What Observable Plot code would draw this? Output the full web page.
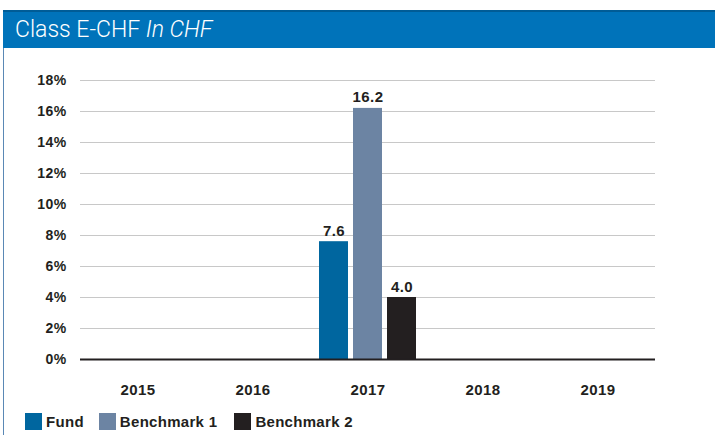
<!DOCTYPE html>
<html>
<head>
<meta charset="utf-8">
<script src="https://cdn.jsdelivr.net/npm/d3@7"></script>
<script src="https://cdn.jsdelivr.net/npm/@observablehq/plot@0.6"></script>
<style>
  body { margin: 0; background: #fff; font-family: "Liberation Sans", Arial, sans-serif; }
  #wrap { position: relative; width: 715px; height: 435px; overflow: hidden; }
  #header { position: absolute; left: 3px; top: 10px; width: 712px; height: 38px; background: #0073ba; border-top: 2px solid #005c96; color: #fff; font-size: 23px; font-weight: 300; font-family: Roboto, "Liberation Sans", sans-serif; line-height: 35px; padding-left: 12px; box-sizing: border-box; }
  #leftline { position: absolute; left: 3px; top: 48px; width: 1px; height: 387px; background: #5a88b5; }
  #chart { position: absolute; left: 0; top: 48px; }
  #chart text { letter-spacing: 0.4px; }
  #legend { position: absolute; left: 25px; top: 413px; display: flex; align-items: center; font-weight: bold; font-size: 15px; color: #231f20; letter-spacing: 0.3px; }
  .item { display: flex; align-items: center; }
  .sw { width: 17px; height: 17px; margin-right: 4px; }
</style>
</head>
<body>
<div id="wrap">
  <div id="header">Class E-CHF <i>In CHF</i></div>
  <div id="leftline"></div>
  <div id="chart"></div>
  <div id="legend"></div>
</div>
<script>
const years = ["2015", "2016", "2017", "2018", "2019"];
const seriesNames = ["Fund", "Benchmark 1", "Benchmark 2"];
const colors = ["#00669f", "#6c84a3", "#231f20"];
const fundValues = [null, null, 7.6, null, null];
const bench1Values = [null, null, 16.2, null, null];
const bench2Values = [null, null, 4.0, null, null];
const yTicks = [0, 2, 4, 6, 8, 10, 12, 14, 16, 18];

const allSeries = [fundValues, bench1Values, bench2Values];
const data = [];
years.forEach((yr, i) => {
  seriesNames.forEach((s, j) => {
    const v = allSeries[j][i];
    if (v != null) data.push({ year: yr, series: s, value: v });
  });
});
const gridData = years.flatMap(yr => yTicks.slice(1).map(t => ({ year: yr, t })));

const chart = Plot.plot({
  width: 715,
  height: 357,
  marginLeft: 78,
  marginRight: 58,
  marginTop: 32,
  marginBottom: 46,
  style: { fontFamily: "'Liberation Sans', Arial, sans-serif", color: "#231f20", background: "transparent" },
  fx: { domain: years, padding: 0, axis: null, label: null },
  x: { domain: seriesNames, paddingInner: 0.143, paddingOuter: 0.226, axis: null, label: null },
  y: { domain: [0, 18], axis: null, label: null },
  color: { domain: seriesNames, range: colors },
  marks: [
    Plot.ruleY(gridData, { fx: "year", y: "t", stroke: "#c8c8c8", strokeWidth: 1 }),
    Plot.axisY(yTicks, { tickSize: 0, tickPadding: 14, tickFormat: d => d + "%", fontSize: 14, fontWeight: "bold", fill: "#231f20", label: null }),
    Plot.barY(data, { fx: "year", x: "series", y: "value", fill: "series" }),
    Plot.text(data, { fx: "year", x: "series", y: "value", text: d => d.value.toFixed(1), dy: -6, fontSize: 15, fontWeight: "bold", fill: "#231f20", lineAnchor: "bottom" }),
    Plot.ruleY(years, { fx: d => d, y: () => 0, stroke: "#231f20", strokeWidth: 2 }),
    Plot.axisFx({ anchor: "bottom", tickSize: 0, tickPadding: 25, fontSize: 15, fontWeight: "bold", fill: "#231f20", label: null })
  ]
});
document.getElementById("chart").appendChild(chart);

const legend = document.getElementById("legend");
const gaps = [15, 17, 0];
seriesNames.forEach((s, i) => {
  const it = document.createElement("div");
  it.className = "item";
  it.style.marginRight = gaps[i] + "px";
  const sw = document.createElement("div");
  sw.className = "sw";
  sw.style.background = colors[i];
  const t = document.createElement("span");
  t.textContent = s;
  it.appendChild(sw); it.appendChild(t);
  legend.appendChild(it);
});
</script>
</body>
</html>
